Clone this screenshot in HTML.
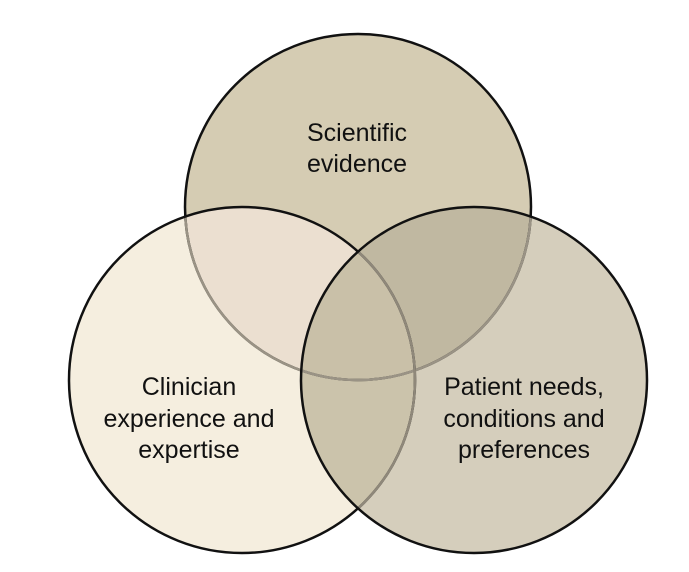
<!DOCTYPE html>
<html><head><meta charset="utf-8"><style>
html,body{margin:0;padding:0;background:#fff;}
svg{display:block;}
text{font-family:"Liberation Sans",Arial,sans-serif;font-size:25px;fill:#111;text-anchor:middle;}
</style></head><body>
<svg width="689" height="572" viewBox="0 0 689 572" xmlns="http://www.w3.org/2000/svg">
<defs>
<clipPath id="cT"><circle cx="358" cy="207" r="173"/></clipPath>
<clipPath id="cL"><circle cx="242" cy="380" r="173"/></clipPath>
<clipPath id="cR"><circle cx="474" cy="380" r="173"/></clipPath>
</defs>
<rect width="689" height="572" fill="#fff"/>
<circle cx="358" cy="207" r="173" fill="#d5ccb3"/>
<circle cx="242" cy="380" r="173" fill="#f5eedf"/>
<circle cx="474" cy="380" r="173" fill="#d5cebc"/>
<g clip-path="url(#cT)">
  <circle cx="242" cy="380" r="173" fill="#ebdfd0"/>
  <circle cx="474" cy="380" r="173" fill="#c0b8a1"/>
</g>
<g clip-path="url(#cL)">
  <circle cx="474" cy="380" r="173" fill="#cbc3ab"/>
  <g clip-path="url(#cT)"><circle cx="474" cy="380" r="173" fill="#c9c0a8"/></g>
</g>
<circle cx="358" cy="207" r="173" fill="none" stroke="#111" stroke-width="2.5"/>
<g clip-path="url(#cL)"><circle cx="358" cy="207" r="173" fill="none" stroke="#9a9385" stroke-width="2.5"/></g>
<g clip-path="url(#cR)"><circle cx="358" cy="207" r="173" fill="none" stroke="#9a9385" stroke-width="2.5"/></g>
<circle cx="242" cy="380" r="173" fill="none" stroke="#111" stroke-width="2.5"/>
<g clip-path="url(#cR)"><circle cx="242" cy="380" r="173" fill="none" stroke="#8f887a" stroke-width="2.5"/></g>
<circle cx="474" cy="380" r="173" fill="none" stroke="#111" stroke-width="2.5"/>
<text x="357" y="141">Scientific</text>
<text x="357" y="172">evidence</text>
<text x="189" y="395">Clinician</text>
<text x="189" y="427">experience and</text>
<text x="189" y="458">expertise</text>
<text x="524" y="395">Patient needs,</text>
<text x="524" y="427">conditions and</text>
<text x="524" y="458">preferences</text>
</svg>
</body></html>
